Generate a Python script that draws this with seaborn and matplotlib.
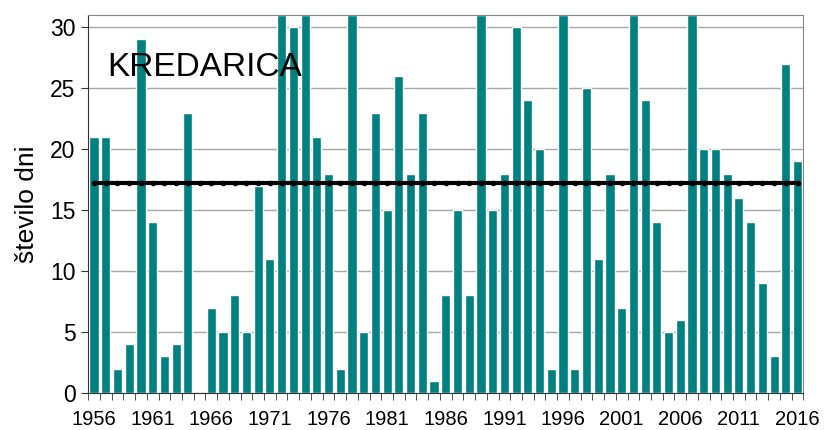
import numpy as np
import pandas as pd
import matplotlib.pyplot as plt
import seaborn as sns

# Yearly counts, Kredarica
years = list(range(1956, 2017))
days = [21, 21, 2, 4, 29, 14, 3, 4, 23, 0,
        7, 5, 8, 5, 17, 11, 31, 30, 31, 21,
        18, 2, 31, 5, 23, 15, 26, 18, 23, 1,
        8, 15, 8, 31, 15, 18, 30, 24, 20, 2,
        31, 2, 25, 11, 18, 7, 31, 24, 14, 5,
        6, 31, 20, 20, 18, 16, 14, 9, 3, 27,
        19]
mean_days = 17.25
station = "KREDARICA"

df = pd.DataFrame({"leto": [str(y) for y in years], "dni": days})

sns.set_style("white")
plt.rcParams['font.family'] = ['Liberation Sans', 'DejaVu Sans']
plt.rcParams['text.color'] = 'black'
plt.rcParams['axes.labelcolor'] = 'black'
plt.rcParams['xtick.color'] = 'black'
plt.rcParams['ytick.color'] = 'black'

fig = plt.figure(figsize=(8.24, 4.3), dpi=100)
ax = fig.add_axes([0.107, 0.086, 0.868, 0.879])

sns.barplot(data=df, x="leto", y="dni", color="#008080", saturation=1,
            width=0.78, ax=ax, zorder=2)

n = len(years)
ax.plot(np.arange(n), [mean_days] * n, color="black", lw=3, marker=".",
        markersize=6, zorder=3)

ax.set_ylim(0, 31)
ax.set_xlim(-0.5, n - 0.5)
ax.set_yticks(range(0, 31, 5))
ax.yaxis.grid(True, color="#a6a6a6", lw=1, zorder=0)
ax.set_axisbelow(True)

ticks = list(range(0, n, 5))
ax.set_xticks(ticks)
ax.set_xticklabels([str(years[i]) for i in ticks])
ax.set_xticks(np.arange(-0.5, n, 1), minor=True)
ax.tick_params(axis="x", which="major", bottom=True, length=0, labelsize=14.5, pad=12)
ax.tick_params(axis="x", which="minor", bottom=True, length=5, color="#333333",
               direction="out")
ax.tick_params(axis="y", length=5, color="#333333", labelsize=16.5, direction="out",
               left=True, pad=4)

for s in ax.spines.values():
    s.set_color("#888888")
ax.spines["left"].set_color("#333333")
ax.spines["bottom"].set_color("#333333")

ax.set_xlabel("")
ax.set_ylabel("število dni", fontsize=19, labelpad=8)
ax.text(0.027, 0.862, station, transform=ax.transAxes, fontsize=24, va="center",
        zorder=5)

fig.savefig("out.png", dpi=100)
